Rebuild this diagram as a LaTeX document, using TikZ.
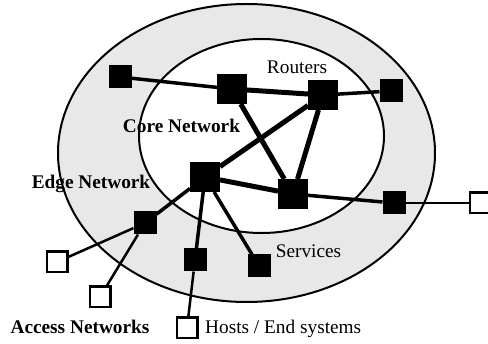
\documentclass[tikz,border=0pt]{standalone}
\usepackage{fontspec}
\setmainfont{Liberation Serif}
\definecolor{ringgray}{HTML}{E8E8E8}

\begin{document}
\begin{tikzpicture}[
  x=1pt, y=-1pt,
  corerouter/.style={rectangle, fill=black, minimum size=30pt, inner sep=0pt, outer sep=0pt},
  edgerouter/.style={rectangle, fill=black, minimum size=23pt, inner sep=0pt, outer sep=0pt},
  hostbox/.style={rectangle, draw, fill=white, line width=2.5pt, minimum size=20.5pt, inner sep=0pt, outer sep=0pt},
  ring/.style={draw, line width=2pt},
  corelink/.style={line width=5pt},
  edgelink/.style={line width=3.5pt},
  accesslink/.style={line width=2.5pt},
  tagtext/.style={font=\fontsize{19.3}{22}\selectfont, inner sep=0pt, anchor=base},
  boldtag/.style={tagtext, font=\fontsize{19.3}{22}\selectfont\bfseries}
]

\useasboundingbox (0,0) rectangle (488,344);

\path[ring, fill=ringgray] (246.5,153) ellipse [x radius=188.5pt, y radius=149pt];
\path[ring, fill=white] (261.5,136) ellipse [x radius=122.5pt, y radius=97pt];

\node[corerouter] (c1) at (232,89)  {};
\node[corerouter] (c2) at (323,95)  {};
\node[corerouter] (c3) at (205,177) {};
\node[corerouter] (c4) at (293,194) {};

\node[edgerouter] (e1) at (120,77)  {};
\node[edgerouter] (e2) at (391,91)  {};
\node[edgerouter] (e3) at (394,203) {};
\node[edgerouter] (e4) at (145,223) {};
\node[edgerouter] (e5) at (195,260) {};
\node[edgerouter] (e6) at (259,266) {};

\node[hostbox] (h1) at (57,262)  {};
\node[hostbox] (h2) at (100,297) {};
\node[hostbox] (h3) at (187,328) {};
\node[hostbox] (h4) at (480,203) {};

\draw[corelink] (c1) -- (c2);
\draw[corelink] (c1) -- (c4);
\draw[corelink] (c2) -- (c4);
\draw[corelink] (c2) -- (c3);
\draw[corelink] (c3) -- (c4);

\draw[edgelink] (e1) -- (c1);
\draw[edgelink] (c2) -- (e2);
\draw[edgelink] (c4) -- (e3);
\draw[edgelink] (c3) -- (e4);
\draw[edgelink] (c3) -- (e5);
\draw[edgelink] (c3) -- (e6);

\draw[accesslink] (e4) -- (h1);
\draw[accesslink] (e4) -- (h2);
\draw[accesslink] (e5) -- (h3);
\draw[line width=2pt] (e3) -- (h4);

\node[tagtext] (routertag) at (297,74) {Routers};
\node[boldtag] (coretag) at (181.5,133) {Core Network};
\node[boldtag] (edgetag) at (91,189) {Edge Network};
\node[tagtext] (servicetag) at (308.5,258) {Services};
\node[boldtag] (accesstag) at (80,334) {Access Networks};
\node[tagtext, anchor=base west] (hosttag) at (205,334) {Hosts / End systems};

\end{tikzpicture}
\end{document}
